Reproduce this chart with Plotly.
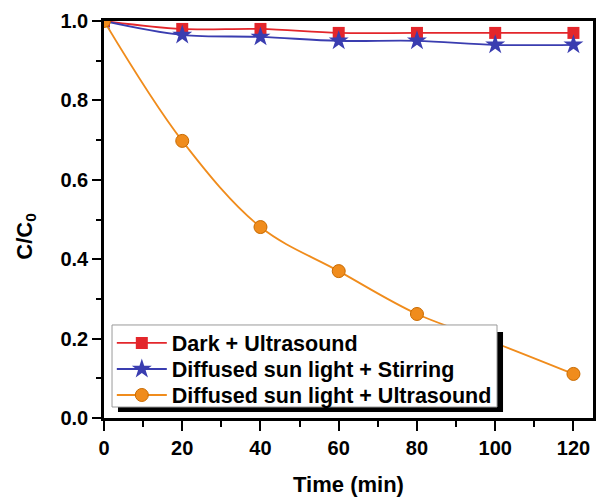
import plotly.graph_objects as go

time_min = [0, 20, 40, 60, 80, 100, 120]
dark_us = [1.0, 0.98, 0.98, 0.97, 0.97, 0.97, 0.97]
sun_stir = [1.0, 0.965, 0.96, 0.95, 0.95, 0.94, 0.94]
sun_us = [1.0, 0.698, 0.481, 0.37, 0.262, 0.189, 0.111]

names = ["Dark + Ultrasound", "Diffused sun light + Stirring", "Diffused sun light + Ultrasound"]
colors = ["#e3262b", "#3a3db0", "#f08c1c"]
symbols = ["square", "star", "circle"]
sizes = [12, 15, 13]
legend_ids = ["legend", "legend2", "legend3"]

F = "Arial, Liberation Sans, sans-serif"

fig = go.Figure()
for y, n, c, s, sz, lg in zip([dark_us, sun_stir, sun_us], names, colors, symbols, sizes, legend_ids):
    line_c = "#c86a00" if s == "circle" else c
    fig.add_trace(go.Scatter(
        x=time_min, y=y, name=n, mode="lines+markers", legend=lg,
        line=dict(color=c, width=1.8, shape="spline", smoothing=1.0),
        marker=dict(symbol=s, size=sz, color=c, line=dict(color=line_c, width=1 if s == "circle" else 0)),
    ))

axis_common = dict(
    showline=True, linecolor="black", linewidth=2.5, mirror=True,
    ticks="outside", tickwidth=2, tickcolor="black",
    showgrid=False, zeroline=False, automargin=False,
    tickfont=dict(family=F, size=20, color="black", weight="bold"),
)

fig.update_xaxes(range=[0, 125], tickvals=[0, 20, 40, 60, 80, 100, 120], ticklen=10,
                 minor=dict(tickvals=[10, 30, 50, 70, 90, 110], ticks="outside", ticklen=6, tickwidth=2, tickcolor="black"),
                 title=dict(text="Time (min)", font=dict(family=F, size=22, color="black", weight="bold"), standoff=20),
                 **axis_common)
fig.update_yaxes(range=[0, 1.0], tickvals=[0, 0.2, 0.4, 0.6, 0.8, 1.0], tickformat=".1f", ticklen=9,
                 minor=dict(tickvals=[0.1, 0.3, 0.5, 0.7, 0.9], ticks="outside", ticklen=5, tickwidth=2, tickcolor="black"),
                 **axis_common)

fig.add_annotation(text="C/C<sub>0</sub>", textangle=-90, xref="paper", yref="paper",
                   x=-0.16, y=0.456, xanchor="center", yanchor="middle", showarrow=False,
                   font=dict(family=F, size=22, color="black", weight="bold"))

# legend frame with drop shadow
fig.add_shape(type="rect", xref="paper", yref="paper", x0=0.0286, x1=0.816, y0=0.0151, y1=0.2166,
              fillcolor="black", line=dict(width=0), layer="above")
fig.add_shape(type="rect", xref="paper", yref="paper", x0=0.0164, x1=0.8037, y0=0.0277, y1=0.2343,
              fillcolor="white", line=dict(color="#9a9a9a", width=1), layer="above")

leg_common = dict(x=0.016, xanchor="left", yanchor="middle",
                  bgcolor="rgba(0,0,0,0)", borderwidth=0,
                  font=dict(family=F, size=21.5, color="black", weight="bold"),
                  itemwidth=50)

fig.update_layout(
    width=597, height=497,
    margin=dict(l=104, r=4, t=21, b=79),
    paper_bgcolor="white", plot_bgcolor="white",
    legend=dict(y=0.189, **leg_common),
    legend2=dict(y=0.1234, **leg_common),
    legend3=dict(y=0.0579, **leg_common),
    showlegend=True,
)

fig.write_html("out.html")
